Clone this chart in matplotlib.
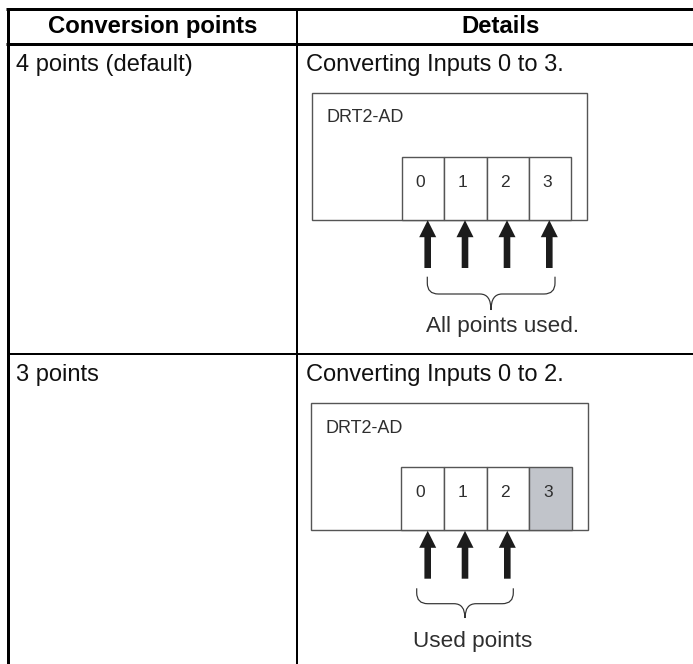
"""
Conversion points table with input diagrams
"""
import matplotlib.pyplot as plt
from matplotlib.patches import PathPatch, Polygon, Rectangle
from matplotlib.path import Path

plt.rcParams['font.family'] = ['Liberation Sans', 'DejaVu Sans']

WIDTH = 693
HEIGHT = 664

headers = ['Conversion points', 'Details']
row_labels = ['4 points (default)', '3 points']
row_details = ['Converting Inputs 0 to 3.', 'Converting Inputs 0 to 2.']
unit_name = 'DRT2-AD'
input_labels = ['0', '1', '2', '3']
brace_labels = ['All points used.', 'Used points']

# table rules, in pixels
rule_top = 8.5
rule_header = 44.3
rule_middle = 354.3
col_left = 7.5
col_divider = 296.7
header_x = [152.5, 500.5]
row_baselines = [70.5, 381]

# one entry per diagram
box_left = [311.7, 310.7]
box_right = [587.0, 588.3]
box_top = [92.7, 403.3]
box_bottom = [219.7, 530.3]
cell_top = [156.7, 466.7]
cell_edges = [[401.7, 444.0, 486.7, 528.7, 571.3],
              [401.3, 444.0, 486.7, 529.3, 572.3]]
cell_fills = [['white', 'white', 'white', 'white'],
              ['white', 'white', 'white', '#c1c4ca']]
name_baseline = [121.7, 433.3]
arrow_x = [[427.7, 465.0, 507.0, 549.3],
           [427.7, 465.0, 507.3]]
arrow_end = [268.0, 578.7]
brace_x = [[427.3, 555.0], [416.7, 513.3]]
brace_mid = [491.0, 465.0]
brace_y = [[276.7, 294.0, 310.0], [588.3, 603.7, 618.0]]
label_x = [503.0, 473.0]
label_baseline = [332.0, 646.7]

LINE_COLOR = '#555555'
ARROW_COLOR = '#1c1c1c'
ROW_TEXT = '#111111'
DIAGRAM_TEXT = '#2e2e2e'


def px(width):
    """
    Line width in points from a width in pixels
    """
    return width * 72 / 100


def draw_arrow(ax, x, tip, end):
    """
    Thick upward arrow with a solid head
    """
    head = tip + 17
    shape = [(x, tip), (x + 8.5, head), (x + 3.3, head), (x + 3.3, end),
             (x - 3.3, end), (x - 3.3, head), (x - 8.5, head)]
    ax.add_patch(Polygon(shape, closed=True, facecolor=ARROW_COLOR, edgecolor='none', zorder=4))


def draw_brace(ax, left, right, mid, ys):
    """
    Curly brace opening upward, with its point towards the label
    """
    top, line, tip = ys
    r = 11
    verts = [(left, top), (left, line - r), (left, line), (left + r, line),
             (mid - r, line), (mid, line), (mid, tip),
             (mid, line), (mid + r, line),
             (right - r, line), (right, line), (right, line - r), (right, top)]
    codes = [Path.MOVETO, Path.LINETO, Path.CURVE3, Path.CURVE3,
             Path.LINETO, Path.CURVE3, Path.CURVE3,
             Path.CURVE3, Path.CURVE3,
             Path.LINETO, Path.CURVE3, Path.CURVE3, Path.LINETO]
    ax.add_patch(PathPatch(Path(verts, codes), facecolor='none', edgecolor='#333333',
                           linewidth=px(1.2), zorder=3))


def draw_diagram(ax, i):
    """
    Unit box, input cells, arrows and brace of one table row
    """
    ax.add_patch(Rectangle((box_left[i], box_top[i]), box_right[i] - box_left[i],
                           box_bottom[i] - box_top[i], facecolor='white',
                           edgecolor=LINE_COLOR, linewidth=px(1.4), zorder=1))
    ax.text(box_left[i] + 15, name_baseline[i], unit_name, fontsize=13, color=DIAGRAM_TEXT,
            ha='left', va='baseline')

    edges = cell_edges[i]
    for j, label in enumerate(input_labels):
        ax.add_patch(Rectangle((edges[j], cell_top[i]), edges[j + 1] - edges[j],
                               box_bottom[i] - cell_top[i], facecolor=cell_fills[i][j],
                               edgecolor=LINE_COLOR, linewidth=px(1.4), zorder=2))
        ax.text((edges[j] + edges[j + 1]) / 2 - 2.7, (cell_top[i] + box_bottom[i]) / 2 - 7.5, label,
                fontsize=12.5, color=DIAGRAM_TEXT, ha='center', va='center_baseline', zorder=3)

    for x in arrow_x[i]:
        draw_arrow(ax, x, box_bottom[i] + 0.5, arrow_end[i])

    draw_brace(ax, brace_x[i][0], brace_x[i][1], brace_mid[i], brace_y[i])
    ax.text(label_x[i], label_baseline[i], brace_labels[i], fontsize=16.2, color=DIAGRAM_TEXT,
            ha='center', va='baseline')


fig = plt.figure(figsize=(WIDTH / 100, HEIGHT / 100), dpi=100)
ax = fig.add_axes([0, 0, 1, 1])
ax.set_xlim(0, WIDTH)
ax.set_ylim(HEIGHT, 0)
ax.axis('off')

ax.plot([col_left - 1.5, WIDTH], [rule_top, rule_top], color='black', linewidth=px(3),
        solid_capstyle='butt')
ax.plot([col_left - 1.5, WIDTH], [rule_header, rule_header], color='black', linewidth=px(3),
        solid_capstyle='butt')
ax.plot([col_left, WIDTH], [rule_middle, rule_middle], color='black', linewidth=px(2),
        solid_capstyle='butt')
ax.plot([col_left, col_left], [rule_top, HEIGHT], color='black', linewidth=px(3),
        solid_capstyle='butt')
ax.plot([col_divider, col_divider], [rule_top, HEIGHT], color='black', linewidth=px(2),
        solid_capstyle='butt')

for col, header in enumerate(headers):
    ax.text(header_x[col], 33.3, header, fontsize=17.2, fontweight='bold', color='black',
            ha='center', va='baseline')

for row, baseline in enumerate(row_baselines):
    ax.text(16, baseline, row_labels[row], fontsize=17, color=ROW_TEXT, ha='left', va='baseline')
    ax.text(306.2, baseline, row_details[row], fontsize=17, color=ROW_TEXT, ha='left', va='baseline')
    draw_diagram(ax, row)

fig.savefig('out.png', dpi=100)
plt.close(fig)
